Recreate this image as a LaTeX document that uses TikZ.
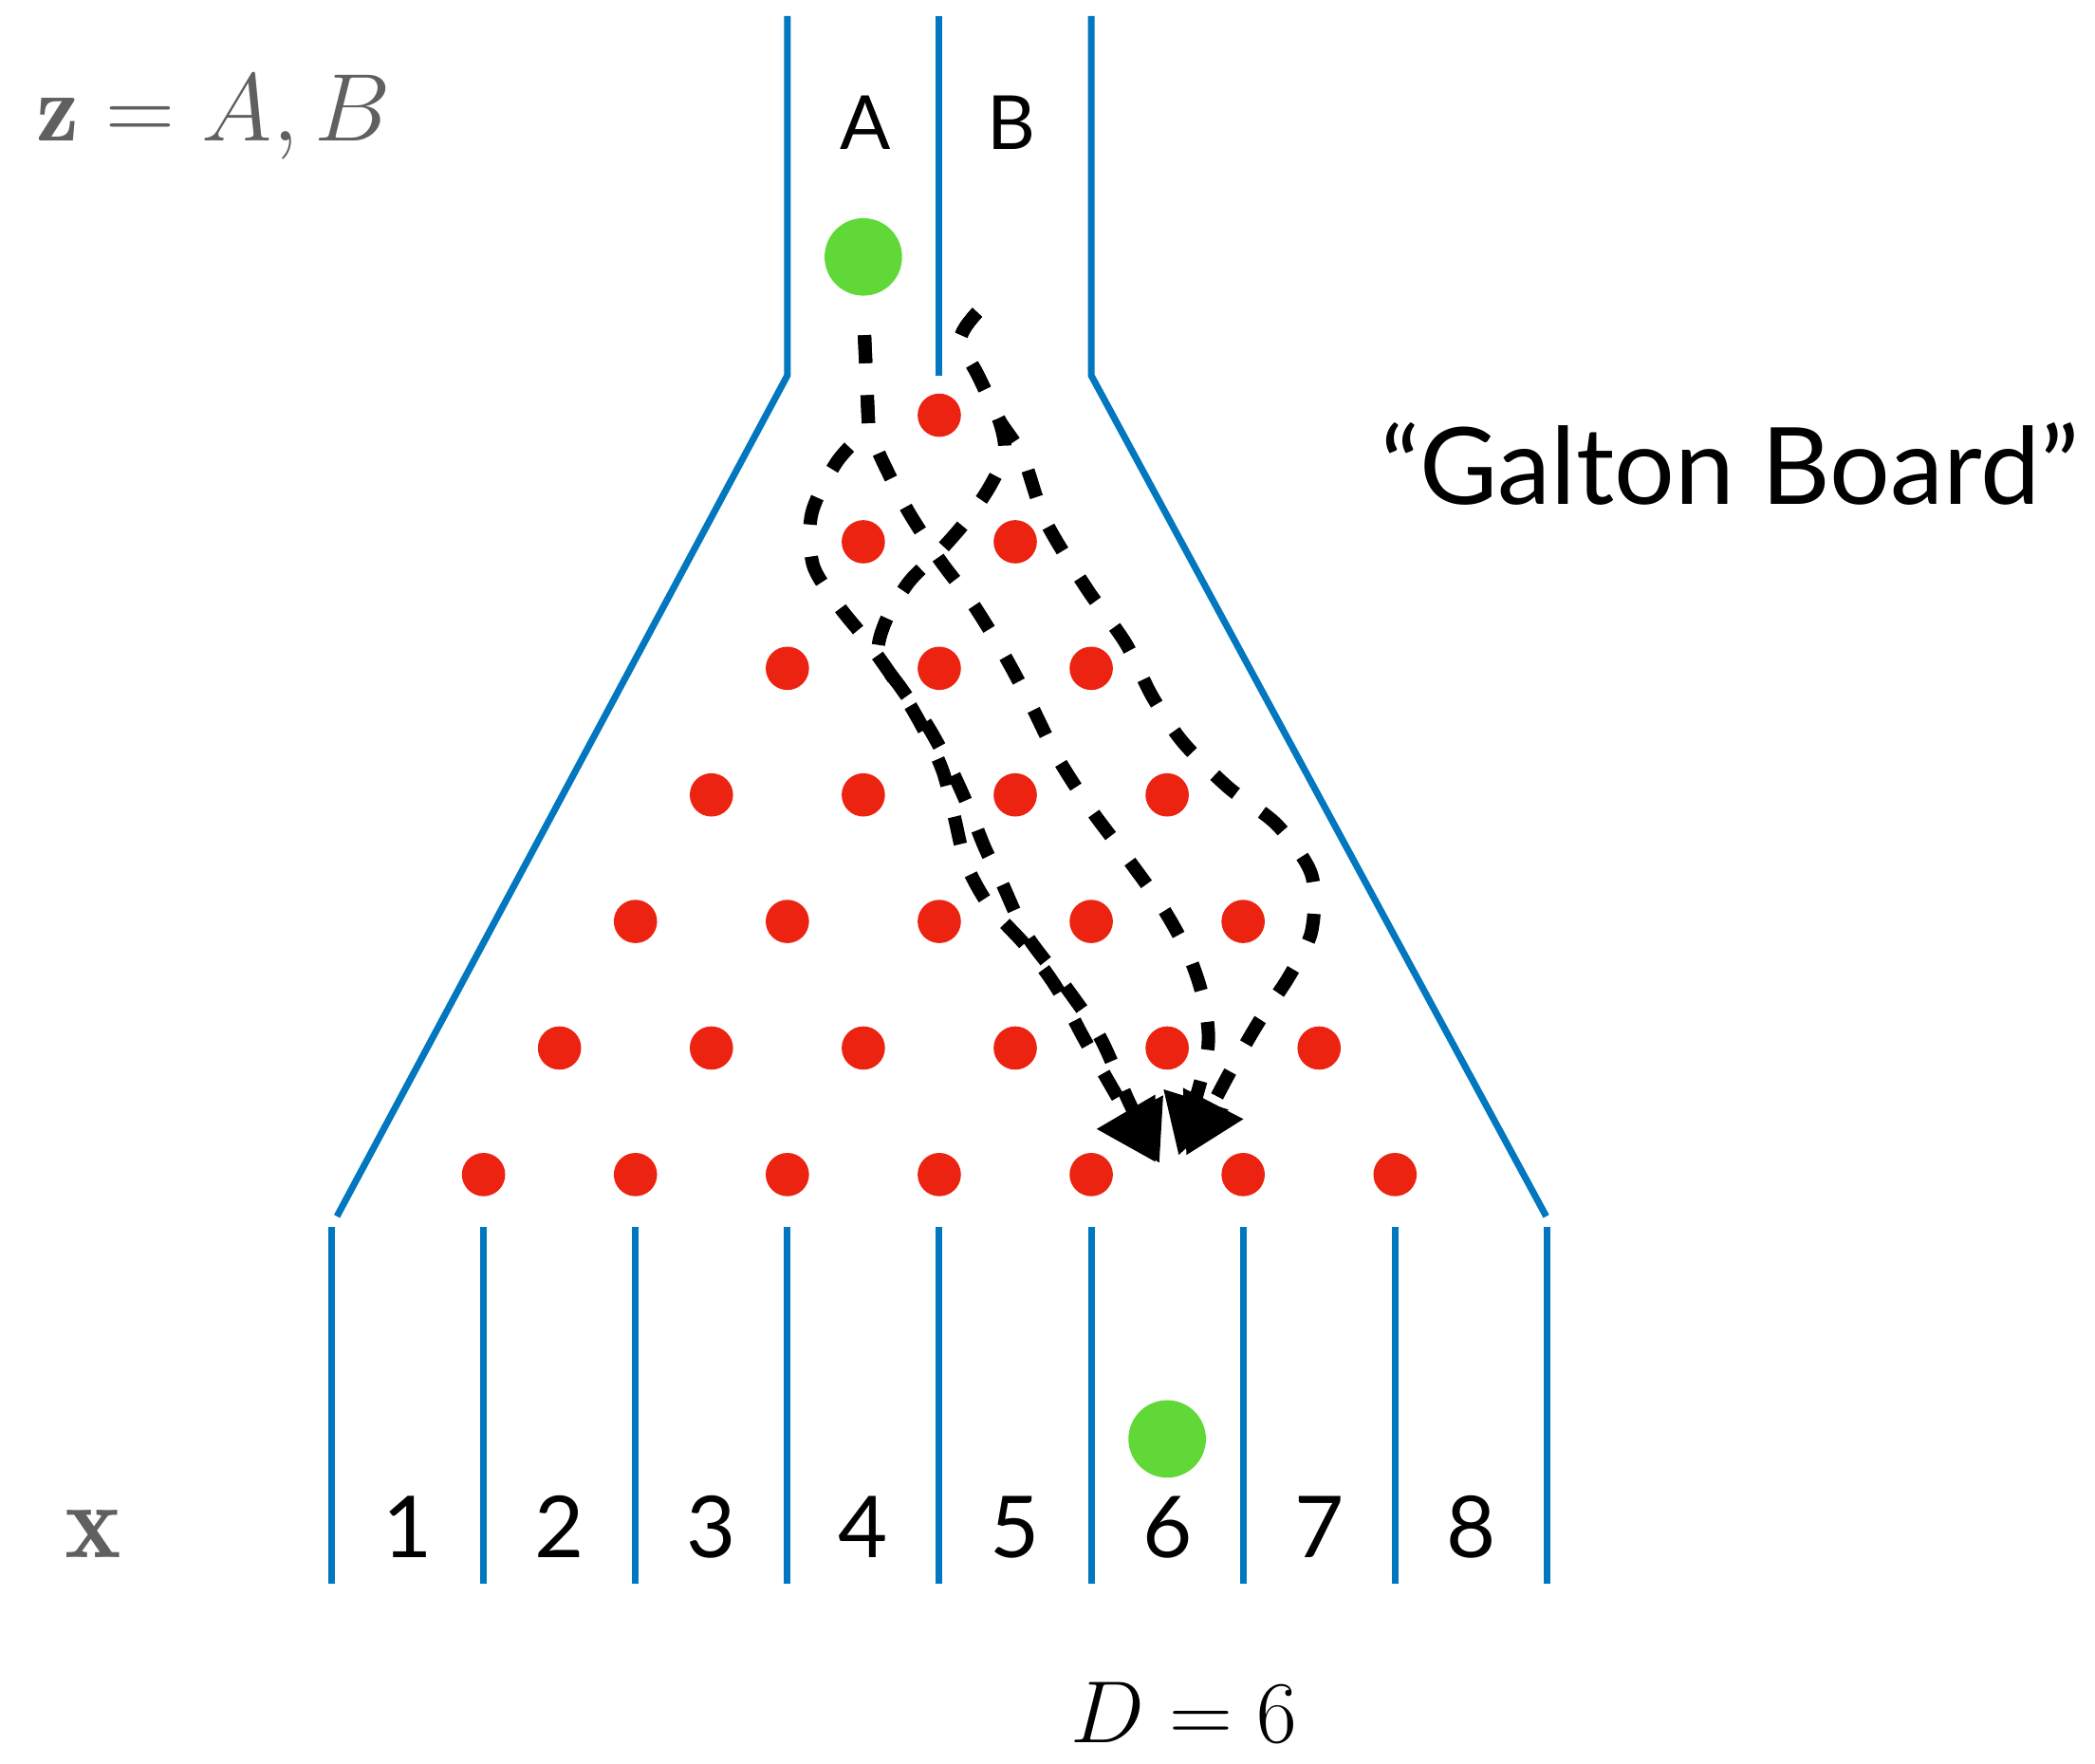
\RequirePackage{fix-cm}
\documentclass[tikz,border=0pt]{standalone}
\usepackage{fontspec}
\setsansfont{Lato}
\usepackage{tikz}
\usetikzlibrary{arrows.meta}
\definecolor{wallBlue}{RGB}{0,119,190}
\definecolor{pegRed}{RGB}{236,35,16}
\definecolor{ballGreen}{RGB}{96,216,56}
\definecolor{labGray}{RGB}{96,96,96}

\begin{document}
\begin{tikzpicture}[
    every node/.style={inner sep=0pt, anchor=base},
    wall/.style={line width=2.5pt, wallBlue},
    peg/.style={pegRed},
    ball/.style={ballGreen},
    track/.style={line width=5pt, dash pattern=on 10.5pt off 12pt,
      -{Triangle[length=22pt,width=24pt]}},
    >=Stealth]
    \useasboundingbox (-12.366,-7.757) rectangle (15.215,15.462);
    % Funnel
    \draw[wall] (-2,15.25) -- (-2,10.52) -- (-7.93,-0.55);
    \draw[wall] (2,15.25) -- (2,10.52) -- (7.99,-0.55);
    \draw[wall] (0,15.25) -- (0,10.52);
    % Bins
    \foreach \x in {-8,-6,...,8} {
      \draw[wall] (\x,-0.69) -- (\x,-5.38);
    }
    % Pegs
    \foreach \r in {0,...,6} {
      \foreach \i in {0,...,\r} {
        \fill[peg] ({2*\i-\r},{(6-\r)*1.666}) circle (0.285);
      }
    }
    % Balls
    \fill[ball] (-1,12.08) circle (0.51);
    \fill[ball] (3,-3.48) circle (0.51);
    % Paths
    \coordinate (startA) at (-0.985,11.05);
    \coordinate (kinkA) at (-0.93,9.83);
    \coordinate (startB) at (0.50,11.35);
    \draw[track] (startA) -- (kinkA) -- plot[smooth] coordinates {(kinkA)
      (-1.35,9.38) (-1.68,8.70) (-1.66,8.02) (-1.32,7.48) (-0.95,7.02)
      (-0.55,6.45) (-0.2,5.85) (0.05,5.3) (0.2,4.7) (0.35,4.1) (0.65,3.55)
      (1.15,3.0) (1.55,2.45) (1.9,1.8) (2.3,1.1) (2.85,0.16)};
    \draw[track] (startA) -- (kinkA) -- plot[smooth] coordinates {(kinkA)
      (-0.76,9.42) (-0.42,8.75) (0.0,8.1) (0.45,7.5) (0.85,6.85) (1.2,6.2)
      (1.55,5.5) (2.0,4.8) (2.45,4.2) (2.95,3.5) (3.3,2.85) (3.5,2.2)
      (3.52,1.55) (3.15,0.25)};
    \draw[track] plot[smooth] coordinates {(startB)
      (0.28,11.0) (0.52,10.5) (0.78,9.95) (0.86,9.5) (0.66,9.05) (0.35,8.6)
      (0.0,8.2) (-0.4,7.8) (-0.7,7.3) (-0.80,6.85) (-0.5,6.4) (-0.15,5.9)
      (0.15,5.35) (0.4,4.8) (0.6,4.3) (0.82,3.85) (1.15,3.15) (1.68,2.45)
      (2.12,1.8) (2.5,0.95) (2.9,0.15)};
    \draw[track] plot[smooth] coordinates {(startB)
      (0.28,11.0) (0.52,10.5) (0.78,9.95) (1.1,9.45) (1.4,8.6) (1.95,7.7)
      (2.45,7.0) (2.8,6.3) (3.2,5.7) (3.8,5.1) (4.45,4.6) (4.9,3.95)
      (4.9,3.2) (4.6,2.6) (4.2,2.0) (3.8,1.3) (3.25,0.25)};
    % Labels
    \node[font=\fontsize{28}{30}\selectfont\sffamily] (labA) at (-0.97,13.49) {A};
    \node[font=\fontsize{28}{30}\selectfont\sffamily] (labB) at (0.95,13.49) {B};
    \foreach \n in {1,...,8} {
      \node[font=\fontsize{32}{34}\selectfont\sffamily] (bin\n) at ({2*\n-9},-5.04) {\n};
    }
    \node[labGray, font=\fontsize{36}{38}\selectfont] (zlab) at (-9.55,13.61) {$\mathbf{z} = A, B$};
    \node[labGray, font=\fontsize{40}{42}\selectfont] (xlab) at (-11.14,-5.04) {$\mathbf{x}$};
    \node[font=\fontsize{33}{35}\selectfont] (dlab) at (3.22,-7.48) {$D = 6$};
    \node[font=\fontsize{40}{42}\selectfont\sffamily] (title) at (10.41,8.82) {“Galton Board”};
\end{tikzpicture}
\end{document}
